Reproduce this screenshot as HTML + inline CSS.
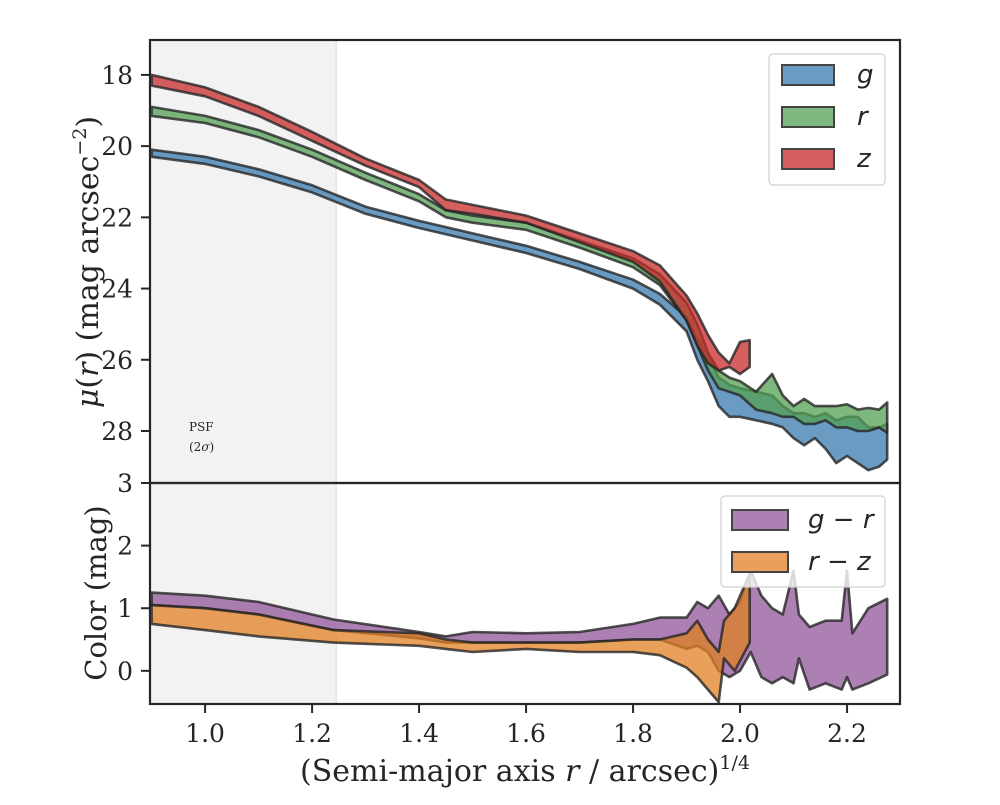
<!DOCTYPE html>
<html><head><meta charset="utf-8"><style>
body{margin:0;background:#fff;}
svg text{font-family:"DejaVu Serif","Liberation Serif",serif;fill:#262626;}
.leg{font-family:"DejaVu Sans","Liberation Sans",sans-serif;font-style:italic;}
</style></head><body>
<svg id="chart" width="1000" height="800" xmlns="http://www.w3.org/2000/svg">
<rect width="1000" height="800" fill="#fff"/>
<g id="topPanel"></g>
<g id="botPanel"></g>
</svg>
<script>
// ---- data ----
const gX  =[0.9,1.0,1.1,1.2,1.3,1.4,1.5,1.6,1.7,1.8,1.85,1.9,1.92,1.94,1.96,1.98,2.0,2.03,2.06,2.08,2.1,2.12,2.14,2.16,2.18,2.2,2.22,2.24,2.26,2.275];
const gHi =[20.1,20.3,20.65,21.1,21.7,22.1,22.45,22.8,23.25,23.75,24.15,24.8,25.4,25.9,26.5,26.7,26.8,26.9,27.0,27.3,27.5,27.5,27.6,27.5,27.7,27.6,27.6,27.9,27.9,27.8];
const gLo =[20.3,20.5,20.85,21.3,21.9,22.3,22.65,23.0,23.45,24.0,24.45,25.2,26.0,26.6,27.3,27.6,27.6,27.7,27.8,27.9,28.2,28.4,28.2,28.5,28.9,28.7,28.9,29.1,29.0,28.8];
const rX  =[0.9,1.0,1.1,1.2,1.3,1.4,1.45,1.5,1.6,1.7,1.8,1.85,1.9,1.92,1.94,1.96,1.98,2.0,2.03,2.06,2.08,2.1,2.12,2.14,2.16,2.18,2.2,2.22,2.24,2.26,2.275];
const rHi =[18.9,19.15,19.55,20.1,20.75,21.35,21.8,21.95,22.15,22.65,23.15,23.6,24.4,25.0,25.8,26.3,26.5,26.6,26.9,26.4,27.0,27.3,27.1,27.3,27.3,27.3,27.25,27.4,27.35,27.4,27.2];
const rLo =[19.15,19.35,19.75,20.3,20.95,21.55,22.0,22.15,22.35,22.85,23.4,23.9,24.9,25.6,26.3,26.8,26.9,27.0,27.4,27.5,27.6,27.6,27.8,27.8,27.7,27.9,27.9,28.0,28.0,27.9,28.05];
const zX  =[0.9,1.0,1.1,1.2,1.3,1.4,1.45,1.5,1.6,1.7,1.8,1.85,1.9,1.92,1.94,1.96,1.98,2.0,2.018];
const zHi =[18.0,18.35,18.9,19.6,20.35,20.95,21.5,21.65,21.95,22.45,22.95,23.35,24.2,24.7,25.3,25.8,26.1,25.5,25.45];
const zLo =[18.3,18.6,19.15,19.85,20.55,21.15,21.8,21.9,22.15,22.7,23.25,23.8,24.9,25.6,26.1,26.3,26.2,26.4,26.2];
const grX =[0.9,1.0,1.1,1.24,1.4,1.45,1.5,1.6,1.7,1.8,1.85,1.9,1.92,1.94,1.96,1.98,2.0,2.02,2.04,2.06,2.08,2.1,2.11,2.13,2.16,2.19,2.2,2.21,2.24,2.275];
const grHi=[1.25,1.2,1.1,0.82,0.62,0.55,0.62,0.6,0.62,0.75,0.85,0.85,1.1,1.0,1.2,0.9,1.1,1.6,1.2,1.0,0.9,1.6,0.9,0.7,0.8,0.8,1.6,0.6,1.0,1.15];
const grLo=[1.05,1.0,0.9,0.65,0.52,0.45,0.45,0.45,0.45,0.5,0.5,0.35,0.4,0.3,0.0,-0.1,0.0,0.3,-0.1,-0.2,-0.1,-0.2,0.2,-0.3,-0.2,-0.3,-0.1,-0.3,-0.2,-0.06];
const rzX =[0.9,1.0,1.1,1.24,1.4,1.45,1.5,1.6,1.7,1.8,1.85,1.9,1.92,1.94,1.96,1.97,1.99,2.018];
const rzHi=[1.05,1.0,0.9,0.65,0.6,0.5,0.45,0.45,0.45,0.5,0.5,0.6,0.8,0.5,0.3,0.8,1.0,1.55];
const rzLo=[0.75,0.65,0.55,0.45,0.4,0.35,0.3,0.35,0.3,0.3,0.25,0.05,-0.1,-0.3,-0.5,0.2,0.0,0.45];
const xTicks=[1.0,1.2,1.4,1.6,1.8,2.0,2.2];
const yTopTicks=[18,20,22,24,26,28];
const yBotTicks=[0,1,2,3];

// ---- axes ----
const L=150,R=900,T=40,MID=483,B=704;
const xs=v=>L+(v-0.897)/(2.299-0.897)*(R-L);
const ysT=v=>T+(v-17.02)/(29.46-17.02)*(MID-T);
const ysB=v=>MID+(3-v)/(3+0.53)*(B-MID);
const NS="http://www.w3.org/2000/svg";
const svgEl=document.getElementById('chart');
function mk(tag,attrs,parent){const e=document.createElementNS(NS,tag);for(const k in attrs)e.setAttribute(k,attrs[k]);(parent||svgEl).appendChild(e);return e;}

const defs=mk('defs',{});
const c1=mk('clipPath',{id:'ct'},defs);mk('rect',{x:L,y:T,width:R-L,height:MID-T},c1);
const c2=mk('clipPath',{id:'cb'},defs);mk('rect',{x:L,y:MID,width:R-L,height:B-MID},c2);
const topG=document.getElementById('topPanel'),botG=document.getElementById('botPanel');
topG.setAttribute('clip-path','url(#ct)');botG.setAttribute('clip-path','url(#cb)');

const shade=document.createElementNS(NS,'rect');
shade.setAttribute('x',L);shade.setAttribute('y',T);
shade.setAttribute('width',xs(1.245)-L);shade.setAttribute('height',B-T);
shade.setAttribute('fill','#f2f2f2');


svgEl.insertBefore(shade,topG);
const sl=document.createElementNS(NS,'line');
sl.setAttribute('x1',xs(1.245));sl.setAttribute('x2',xs(1.245));sl.setAttribute('y1',T);sl.setAttribute('y2',B);
sl.setAttribute('stroke','#e4e4e4');sl.setAttribute('stroke-width',1.5);
svgEl.insertBefore(sl,topG);

function band(X,Hi,Lo,ys,color,parent,name){
  let d='';
  X.forEach((x,i)=>{d+=(i?'L':'M')+xs(x).toFixed(1)+','+ys(Hi[i]).toFixed(1);});
  for(let i=X.length-1;i>=0;i--)d+='L'+xs(X[i]).toFixed(1)+','+ys(Lo[i]).toFixed(1);
  d+='Z';
  const p=mk('path',{d:d,fill:color,'fill-opacity':0.75,stroke:'#262626','stroke-opacity':0.8,'stroke-width':2.6,'stroke-linejoin':'round'},parent);
  
  
}
band(gX,gHi,gLo,ysT,'#387aaf',topG,'g-band');
band(rX,rHi,rLo,ysT,'#54a054',topG,'r-band');
band(zX,zHi,zLo,ysT,'#c82b2a',topG,'z-band');
band(grX,grHi,grLo,ysB,'#92559a',botG,'g-r-band');
band(rzX,rzHi,rzLo,ysB,'#e08023',botG,'r-z-band');

mk('rect',{x:L,y:T,width:R-L,height:MID-T,fill:'none',stroke:'#262626','stroke-width':2.2});
mk('rect',{x:L,y:MID,width:R-L,height:B-MID,fill:'none',stroke:'#262626','stroke-width':2.2});

xTicks.forEach(v=>{const x=xs(v);mk('line',{x1:x,x2:x,y1:B,y2:B+9,stroke:'#262626','stroke-width':2});
 const t=mk('text',{x:x,y:B+38,'text-anchor':'middle','font-size':25});t.textContent=v.toFixed(1);
 
 });
yTopTicks.forEach(v=>{const y=ysT(v);mk('line',{x1:L-9,x2:L,y1:y,y2:y,stroke:'#262626','stroke-width':2});
 const t=mk('text',{x:L-17,y:y+9,'text-anchor':'end','font-size':25});t.textContent=v;
 
 });
yBotTicks.forEach(v=>{const y=ysB(v);mk('line',{x1:L-9,x2:L,y1:y,y2:y,stroke:'#262626','stroke-width':2});
 const t=mk('text',{x:L-17,y:y+9,'text-anchor':'end','font-size':25});t.textContent=v;
 
 });
</script>
<svg style="position:absolute;left:0;top:0" width="1000" height="800" xmlns="http://www.w3.org/2000/svg">
<text x="189" y="431" font-size="12">PSF</text>
<text x="189" y="451" font-size="12">(2<tspan font-style="italic">σ</tspan>)</text>
<text x="525" y="781" font-size="30" text-anchor="middle">(Semi-major axis <tspan font-style="italic">r</tspan> / arcsec)<tspan font-size="19" dy="-12">1/4</tspan></text>
<text transform="translate(98,262) rotate(-90)" font-size="30" text-anchor="middle"><tspan font-style="italic">μ</tspan>(<tspan font-style="italic">r</tspan>) (mag arcsec<tspan font-size="19" dy="-12">−2</tspan><tspan dy="12">)</tspan></text>
<text transform="translate(106,593) rotate(-90)" font-size="29" text-anchor="middle">Color (mag)</text>
<g>
<rect x="769" y="54" width="116" height="131" rx="4" fill="#fff" fill-opacity="0.8" stroke="#d0d0d0" stroke-width="1.2"/>
<rect x="782" y="65" width="52" height="20" fill="#6a9bc3" stroke="#444" stroke-width="2"/>
<text class="leg" x="857" y="83" font-size="26">g</text>
<rect x="782" y="107" width="52" height="20" fill="#7fb87f" stroke="#444" stroke-width="2"/>
<text class="leg" x="857" y="125" font-size="26">r</text>
<rect x="782" y="149" width="52" height="20" fill="#d6605f" stroke="#444" stroke-width="2"/>
<text class="leg" x="857" y="167" font-size="26">z</text>
</g>
<g>
<rect x="721" y="496" width="164" height="91" rx="4" fill="#fff" fill-opacity="0.8" stroke="#d0d0d0" stroke-width="1.2"/>
<rect x="732" y="510" width="56" height="20" fill="#ad80b3" stroke="#444" stroke-width="2"/>
<text class="leg" x="808" y="528" font-size="26">g − r</text>
<rect x="732" y="552" width="56" height="20" fill="#e8a05a" stroke="#444" stroke-width="2"/>
<text class="leg" x="808" y="570" font-size="26">r − z</text>
</g>
</svg>
</body></html>
